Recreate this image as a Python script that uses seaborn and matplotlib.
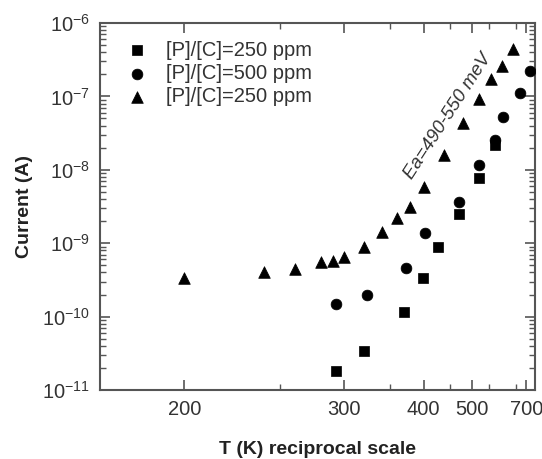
import numpy as np
import pandas as pd
import matplotlib
matplotlib.use("Agg")
import matplotlib.pyplot as plt
import matplotlib.ticker as mticker
import seaborn as sns

# Current vs temperature for three phosphorus-doped diamond samples
T_sq = [293, 320, 369, 399, 425, 470, 521, 570]
I_sq = [1.8e-11, 3.4e-11, 1.17e-10, 3.4e-10, 9.0e-10, 2.5e-9, 7.7e-9, 2.2e-8]

T_ci = [293, 323, 372, 403, 470, 521, 570, 600, 670, 720]
I_ci = [1.5e-10, 2.0e-10, 4.6e-10, 1.36e-9, 3.6e-9, 1.16e-8, 2.55e-8, 5.2e-8, 1.1e-7, 2.2e-7]

T_tr = [200, 240, 260, 280, 290, 300, 320, 341, 360, 379, 400, 438, 478, 519, 556, 596, 640]
I_tr = [3.4e-10, 4.1e-10, 4.4e-10, 5.5e-10, 5.8e-10, 6.5e-10, 8.8e-10, 1.44e-9, 2.2e-9,
        3.1e-9, 5.9e-9, 1.6e-8, 4.3e-8, 9.1e-8, 1.73e-7, 2.6e-7, 4.4e-7]

labels = ["[P]/[C]=250 ppm", "[P]/[C]=500 ppm", "[P]/[C]=250 ppm"]
x_major = [200, 300, 400, 500, 700]
x_minor = [250, 350, 450, 550, 650]
y_major = [1e-11, 1e-10, 1e-9, 1e-8, 1e-7, 1e-6]

sns.set_theme(style="ticks")
plt.rcParams["font.family"] = ["Liberation Sans", "DejaVu Sans"]
plt.rcParams["mathtext.fontset"] = "custom"
plt.rcParams["mathtext.rm"] = "Liberation Sans"
plt.rcParams["mathtext.it"] = "Liberation Sans:italic"
plt.rcParams["mathtext.bf"] = "Liberation Sans:bold"

fig = plt.figure(figsize=(5.42, 4.59), dpi=100)
ax = fig.add_axes([0.1845, 0.1503, 0.8026, 0.7996])

df = pd.concat([
    pd.DataFrame({"T": T_sq, "I": I_sq, "set": "A"}),
    pd.DataFrame({"T": T_ci, "I": I_ci, "set": "B"}),
    pd.DataFrame({"T": T_tr, "I": I_tr, "set": "C"}),
])

specs = [("A", "s", 45), ("B", "o", 60), ("C", "^", 70)]
for (name, mk, sz), lab in zip(specs, labels):
    sub = df[df["set"] == name]
    sns.scatterplot(data=sub, x="T", y="I", marker=mk, s=sz, color="black",
                    edgecolor="black", linewidth=0.5, ax=ax, label=lab, zorder=3)

# reciprocal temperature axis
with np.errstate(divide="ignore"):
    ax.set_xscale("function", functions=(lambda t: -1.0 / t, lambda u: -1.0 / u))
ax.set_yscale("log")
ax.set_xlim(170, 748)
ax.set_ylim(1e-11, 1e-6)

ax.xaxis.set_major_locator(mticker.FixedLocator(x_major))
ax.xaxis.set_minor_locator(mticker.FixedLocator(x_minor))
ax.xaxis.set_major_formatter(mticker.FixedFormatter([str(v) for v in x_major]))
ax.xaxis.set_minor_formatter(mticker.NullFormatter())

y_minor = [m * 10.0 ** e for e in range(-11, -6) for m in range(2, 10)]
ax.yaxis.set_major_locator(mticker.FixedLocator(y_major))
ax.yaxis.set_minor_locator(mticker.FixedLocator(y_minor))
ax.yaxis.set_major_formatter(mticker.FuncFormatter(lambda v, p: r"$10^{%d}$" % round(np.log10(v))))
ax.yaxis.set_minor_formatter(mticker.NullFormatter())

ax.set_xlabel("T (K) reciprocal scale", fontsize=14, fontweight="bold", color="#222222", labelpad=16)
ax.set_ylabel("Current (A)", fontsize=14, fontweight="bold", color="#222222", labelpad=7)

ax.text(0.80, 0.745, "Ea=490-550 meV", transform=ax.transAxes, rotation=57,
        rotation_mode="anchor", ha="center", va="center", fontsize=13.5,
        fontstyle="italic", color="#333333")

leg = ax.legend(loc="upper left", bbox_to_anchor=(0.035, 0.985), frameon=False,
                fontsize=14.5, handletextpad=0.9, labelspacing=0.22, borderaxespad=0.2,
                handlelength=1.0, labelcolor="#333333")

# frame and inward ticks on all four sides
spine_col = "#555555"
for s in ax.spines.values():
    s.set_color(spine_col)
    s.set_linewidth(1.5)
ax.tick_params(which="both", direction="in", top=True, right=True,
               bottom=True, left=True, color=spine_col)
ax.tick_params(which="major", length=7, width=1.2, labelsize=14.5, labelcolor="#333333", pad=7)
ax.tick_params(which="minor", length=4, width=1.0)

fig.savefig("out.png", dpi=100)
